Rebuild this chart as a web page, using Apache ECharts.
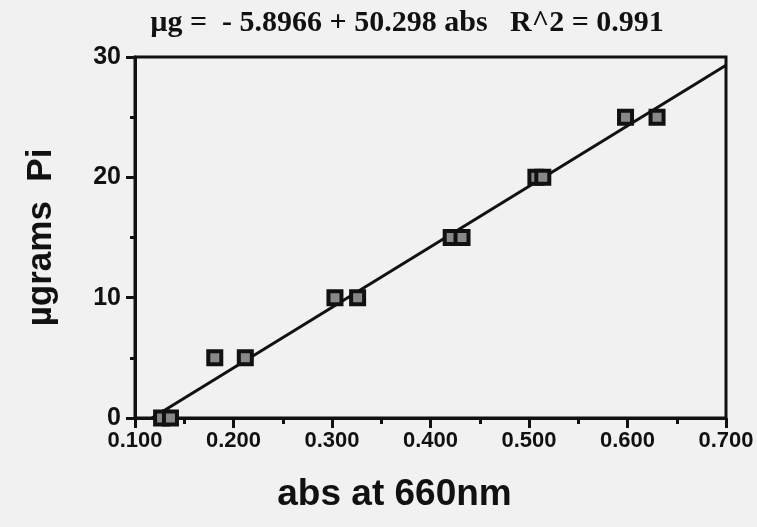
<!DOCTYPE html>
<html>
<head>
<meta charset="utf-8">
<script src="https://cdn.jsdelivr.net/npm/echarts@6/dist/echarts.min.js"></script>
<style>
  html, body { margin: 0; padding: 0; background: #f1f1f1; }
  #chart { width: 757px; height: 527px; }
</style>
</head>
<body>
<div id="chart"></div>
<script>
// measured standards: absorbance at 660nm vs µg of phosphate
const absValues = [0.127, 0.136, 0.181, 0.212, 0.303, 0.326, 0.421, 0.432, 0.507, 0.514, 0.598, 0.630];
const ugValues  = [0, 0, 5, 5, 10, 10, 15, 15, 20, 20, 25, 25];
// fit printed on the chart
const fitIntercept = -5.8966;
const fitSlope = 50.298;
const fitR2 = 0.991;

const points = absValues.map((x, i) => [x, ugValues[i]]);
const xStart = -fitIntercept / fitSlope;
const xEnd = 0.7;
const fitLine = [[xStart, fitIntercept + fitSlope * xStart], [xEnd, fitIntercept + fitSlope * xEnd]];

const ink = '#111';
const chart = echarts.init(document.getElementById('chart'));
chart.setOption({
  backgroundColor: '#f1f1f1',
  animation: false,
  title: {
    text: 'µg =  - 5.8966 + 50.298 abs   R^2 = ' + fitR2,
    left: 402, top: 3, textAlign: 'center',
    textStyle: { fontFamily: 'Liberation Serif', fontWeight: 'bold', fontSize: 30, color: ink }
  },
  grid: {
    left: 135, right: 31, top: 57, bottom: 109,
    show: true, borderColor: ink, borderWidth: 3, backgroundColor: 'transparent'
  },
  xAxis: {
    type: 'value', min: 0.1, max: 0.7, interval: 0.1,
    name: 'abs at 660nm', nameLocation: 'middle', nameGap: 58,
    nameTextStyle: {
      fontFamily: 'Liberation Sans', fontWeight: 'bold', fontSize: 37, color: ink,
      padding: [0, 72, 0, 0]
    },
    axisLine: { show: true, lineStyle: { color: ink, width: 3 } },
    axisTick: { show: true, length: 10, lineStyle: { color: ink, width: 3 } },
    minorTick: { show: true, splitNumber: 2, length: 6, lineStyle: { color: ink, width: 3 } },
    splitLine: { show: false },
    axisLabel: {
      margin: 12, color: ink, fontFamily: 'Liberation Sans', fontWeight: 'bold', fontSize: 22,
      formatter: v => v.toFixed(3)
    }
  },
  yAxis: {
    type: 'value', min: 0, max: 30, interval: 10,
    name: 'µgrams  Pi', nameLocation: 'middle', nameGap: 76, nameRotate: 90,
    nameTextStyle: { fontFamily: 'Liberation Sans', fontWeight: 'bold', fontSize: 35, color: ink },
    axisLine: { show: true, lineStyle: { color: ink, width: 3 } },
    axisTick: { show: true, length: 9, lineStyle: { color: ink, width: 3 } },
    minorTick: { show: true, splitNumber: 2, length: 5, lineStyle: { color: ink, width: 3 } },
    splitLine: { show: false },
    axisLabel: { margin: 14, color: ink, fontFamily: 'Liberation Sans', fontWeight: 'bold', fontSize: 25 }
  },
  series: [
    {
      type: 'line', data: fitLine, symbol: 'none', z: 3,
      lineStyle: { color: ink, width: 3 }
    },
    {
      type: 'scatter', data: points, symbol: 'rect', symbolSize: 13, z: 4,
      itemStyle: { color: '#888', borderColor: ink, borderWidth: 4, opacity: 1 }
    }
  ]
});
</script>
</body>
</html>
